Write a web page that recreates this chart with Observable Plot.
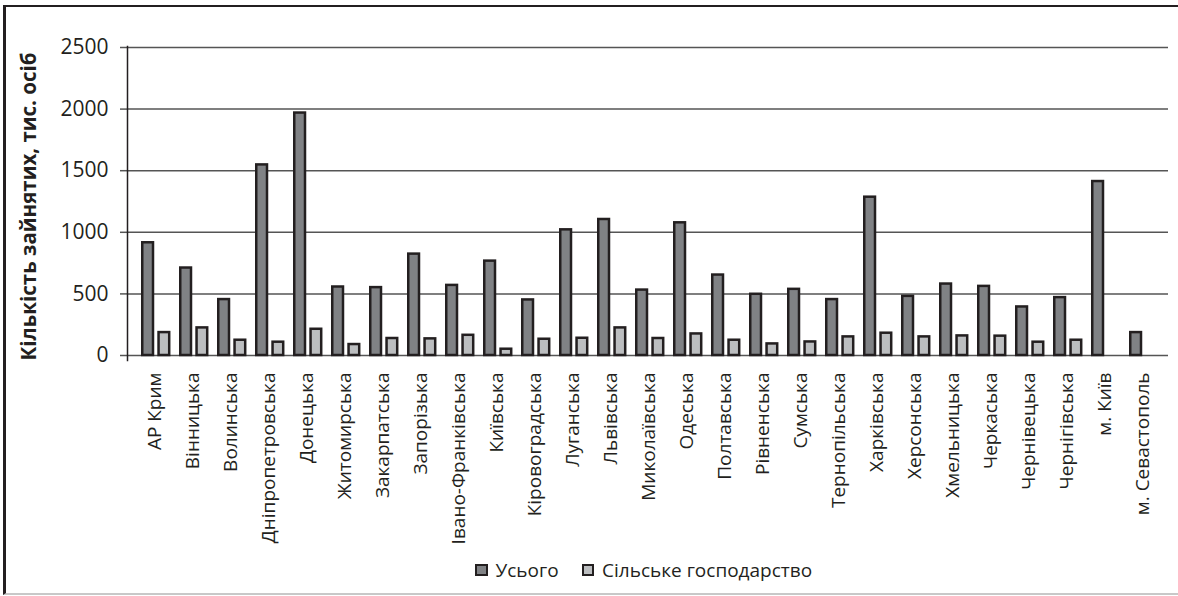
<!DOCTYPE html>
<html><head><meta charset="utf-8">
<script src="https://cdn.jsdelivr.net/npm/d3@7"></script>
<script src="https://cdn.jsdelivr.net/npm/@observablehq/plot@0.6"></script>
<style>
body{margin:0;background:#fff;font-family:"Open Sans",sans-serif;}
#wrap{position:relative;width:1178px;height:596px;overflow:hidden;background:#fff}
#frame{position:absolute;left:3px;top:5px;width:1200px;height:586px;border-top:2.5px solid #231f20;border-left:3px solid #231f20;border-bottom:2px solid #c8c8c8}
#chart{position:absolute;left:0;top:0}
#legend{position:absolute;left:475px;top:557px;display:flex;align-items:center;font-size:19px;color:#231f20;white-space:nowrap}
.sw{width:8.5px;height:8.5px;border:2px solid #231f20;display:inline-block;margin-right:8px}
</style></head>
<body>
<div id="wrap"><div id="frame"></div><div id="chart"></div>
<div id="legend"><span class="sw" style="background:#808285"></span><span>Усього</span><span style="width:23px;display:inline-block"></span><span class="sw" style="background:#bcbec0"></span><span>Сільське господарство</span></div>
</div>
<script>
const categories = ["АР Крим","Вінницька","Волинська","Дніпропетровська","Донецька","Житомирська","Закарпатська","Запорізька","Івано-Франківська","Київська","Кіровоградська","Луганська","Львівська","Миколаївська","Одеська","Полтавська","Рівненська","Сумська","Тернопільська","Харківська","Херсонська","Хмельницька","Черкаська","Чернівецька","Чернігівська","м. Київ","м. Севастополь"];
const total = [915,710,454,1547,1968,556,551,823,569,766,451,1020,1104,531,1077,653,497,537,454,1285,480,580,561,394,470,1412,186];
const agri = [186,224,124,108,213,89,138,135,164,51,132,140,224,138,175,124,94,110,151,181,151,159,157,108,124,null,null];
const yTicks = [0,500,1000,1500,2000,2500];
const seriesNames = ["Усього","Сільське господарство"];
const yLabel = "Кількість зайнятих, тис. осіб";

const data = categories.map((c,i)=>({region:c,total:total[i],agri:agri[i]}));
const ink = "#231f20";
const chart = Plot.plot({
  width:1178, height:550,
  marginLeft:127, marginRight:10, marginTop:47, marginBottom:195,
  style:{fontFamily:"'Open Sans', sans-serif", fontSize:"19px", color:ink, background:"transparent"},
  x:{domain:categories, padding:0, label:null},
  y:{domain:[0,2500], label:null},
  marks:[
    Plot.gridY(yTicks,{stroke:"#555", strokeOpacity:1, strokeWidth:1.5}),
    Plot.barY(data,{x:"region", y:"total", fill:"#808285", stroke:ink, strokeWidth:2.5, insetLeft:7.25, insetRight:20}),
    Plot.barY(data.filter(d=>d.agri!=null),{x:"region", y:"agri", fill:"#bcbec0", stroke:ink, strokeWidth:2.5, insetLeft:23.55, insetRight:3.8}),
    Plot.axisY(yTicks,{tickSize:7, tickPadding:12, stroke:"#555", strokeWidth:1.5, fontSize:21, tickFormat:d=>String(d), label:null}),
    Plot.frame({anchor:"left", stroke:ink, strokeWidth:1.5, insetBottom:-5, insetTop:-1}),
    Plot.axisX({tickSize:0, tickRotate:-90, tickPadding:17, fontSize:19, label:null}),
    Plot.text([yLabel],{frameAnchor:"left", rotate:-90, dx:-98, dy:5, fontWeight:"bold", fontSize:20.5, textAnchor:"middle", fill:ink})
  ]
});
document.getElementById("chart").appendChild(chart);
</script>
</body></html>
